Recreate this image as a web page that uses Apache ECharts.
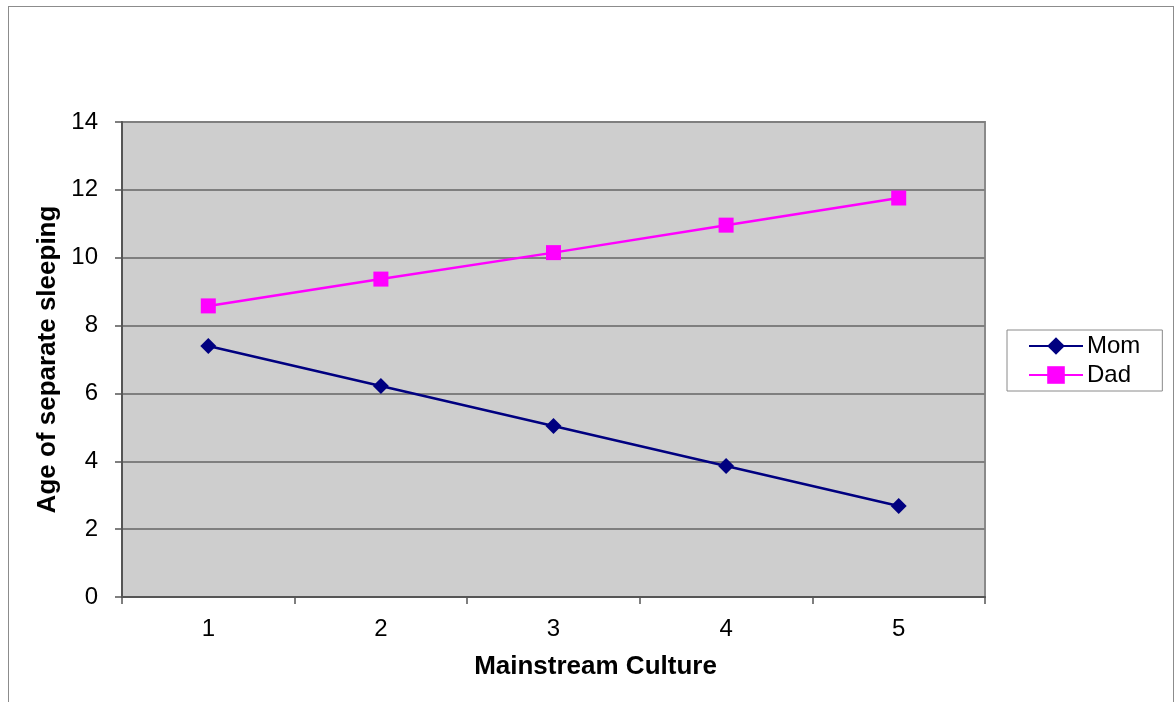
<!DOCTYPE html>
<html>
<head>
<meta charset="utf-8">
<script src="https://cdn.jsdelivr.net/npm/echarts@6/dist/echarts.min.js"></script>
<style>
  html, body { margin: 0; padding: 0; background: #fff; }
  #frame {
    position: absolute; left: 8px; top: 6px; width: 1166px; height: 720px;
    border: 1px solid #8c8c8c; box-sizing: border-box;
  }
  #chart { position: absolute; left: 0; top: 0; width: 1176px; height: 702px; }
</style>
</head>
<body>
<div id="frame"></div>
<div id="chart"></div>
<script>
const categories = ["1", "2", "3", "4", "5"];
const momValues = [7.4, 6.22, 5.04, 3.86, 2.68];
const dadValues = [8.58, 9.37, 10.15, 10.96, 11.76];
const yTicks = { min: 0, max: 14, interval: 2 };

const chart = echarts.init(document.getElementById("chart"));

const font = "Liberation Sans, Arial, sans-serif";

const option = {
  animation: false,
  textStyle: { fontFamily: font },
  grid: {
    left: 122,
    top: 122,
    width: 863,
    height: 475,
    show: true,
    backgroundColor: "#cecece",
    borderColor: "#8a8a8a",
    borderWidth: 2,
  },
  legend: {
    orient: "vertical",
    left: 1007,
    top: 330,
    padding: [4, 22, 4, 21],
    itemWidth: 54,
    itemHeight: 22,
    itemGap: 5,
    borderColor: "#8a8a8a",
    borderWidth: 1,
    backgroundColor: "#fff",
    textStyle: { fontSize: 24, color: "#000", fontFamily: font, padding: [0, 0, 0, -1] },
    data: ["Mom", "Dad"],
  },
  xAxis: {
    type: "category",
    data: categories,
    boundaryGap: true,
    name: "Mainstream Culture",
    nameLocation: "middle",
    nameGap: 57,
    nameTextStyle: {
      fontSize: 26, fontWeight: "bold", color: "#000", fontFamily: font,
      padding: [0, 0, 0, 84],
    },
    axisLine: { lineStyle: { color: "#555", width: 2 } },
    axisTick: { show: true, length: 7, lineStyle: { color: "#555", width: 1.5 } },
    axisLabel: { fontSize: 24, color: "#000", margin: 20, fontFamily: font },
    splitLine: { show: false },
  },
  yAxis: {
    type: "value",
    min: yTicks.min,
    max: yTicks.max,
    interval: yTicks.interval,
    name: "Age of separate sleeping",
    nameLocation: "middle",
    nameGap: 50,
    nameTextStyle: { fontSize: 26, fontWeight: "bold", color: "#000", fontFamily: font },
    axisLine: { show: true, lineStyle: { color: "#555", width: 2 } },
    axisTick: { show: true, length: 7, lineStyle: { color: "#555", width: 1.5 } },
    axisLabel: { fontSize: 24, color: "#000", margin: 24, fontFamily: font },
    splitLine: { show: true, lineStyle: { color: "#7f7f7f", width: 2 } },
  },
  series: [
    {
      name: "Mom",
      type: "line",
      data: momValues,
      symbol: "diamond",
      symbolSize: 16,
      itemStyle: { color: "#000080" },
      lineStyle: { color: "#000080", width: 2.5 },
    },
    {
      name: "Dad",
      type: "line",
      data: dadValues,
      symbol: "rect",
      symbolSize: 15,
      itemStyle: { color: "#ff00ff" },
      lineStyle: { color: "#ff00ff", width: 2.5 },
    },
  ],
};

chart.setOption(option);
</script>
</body>
</html>
